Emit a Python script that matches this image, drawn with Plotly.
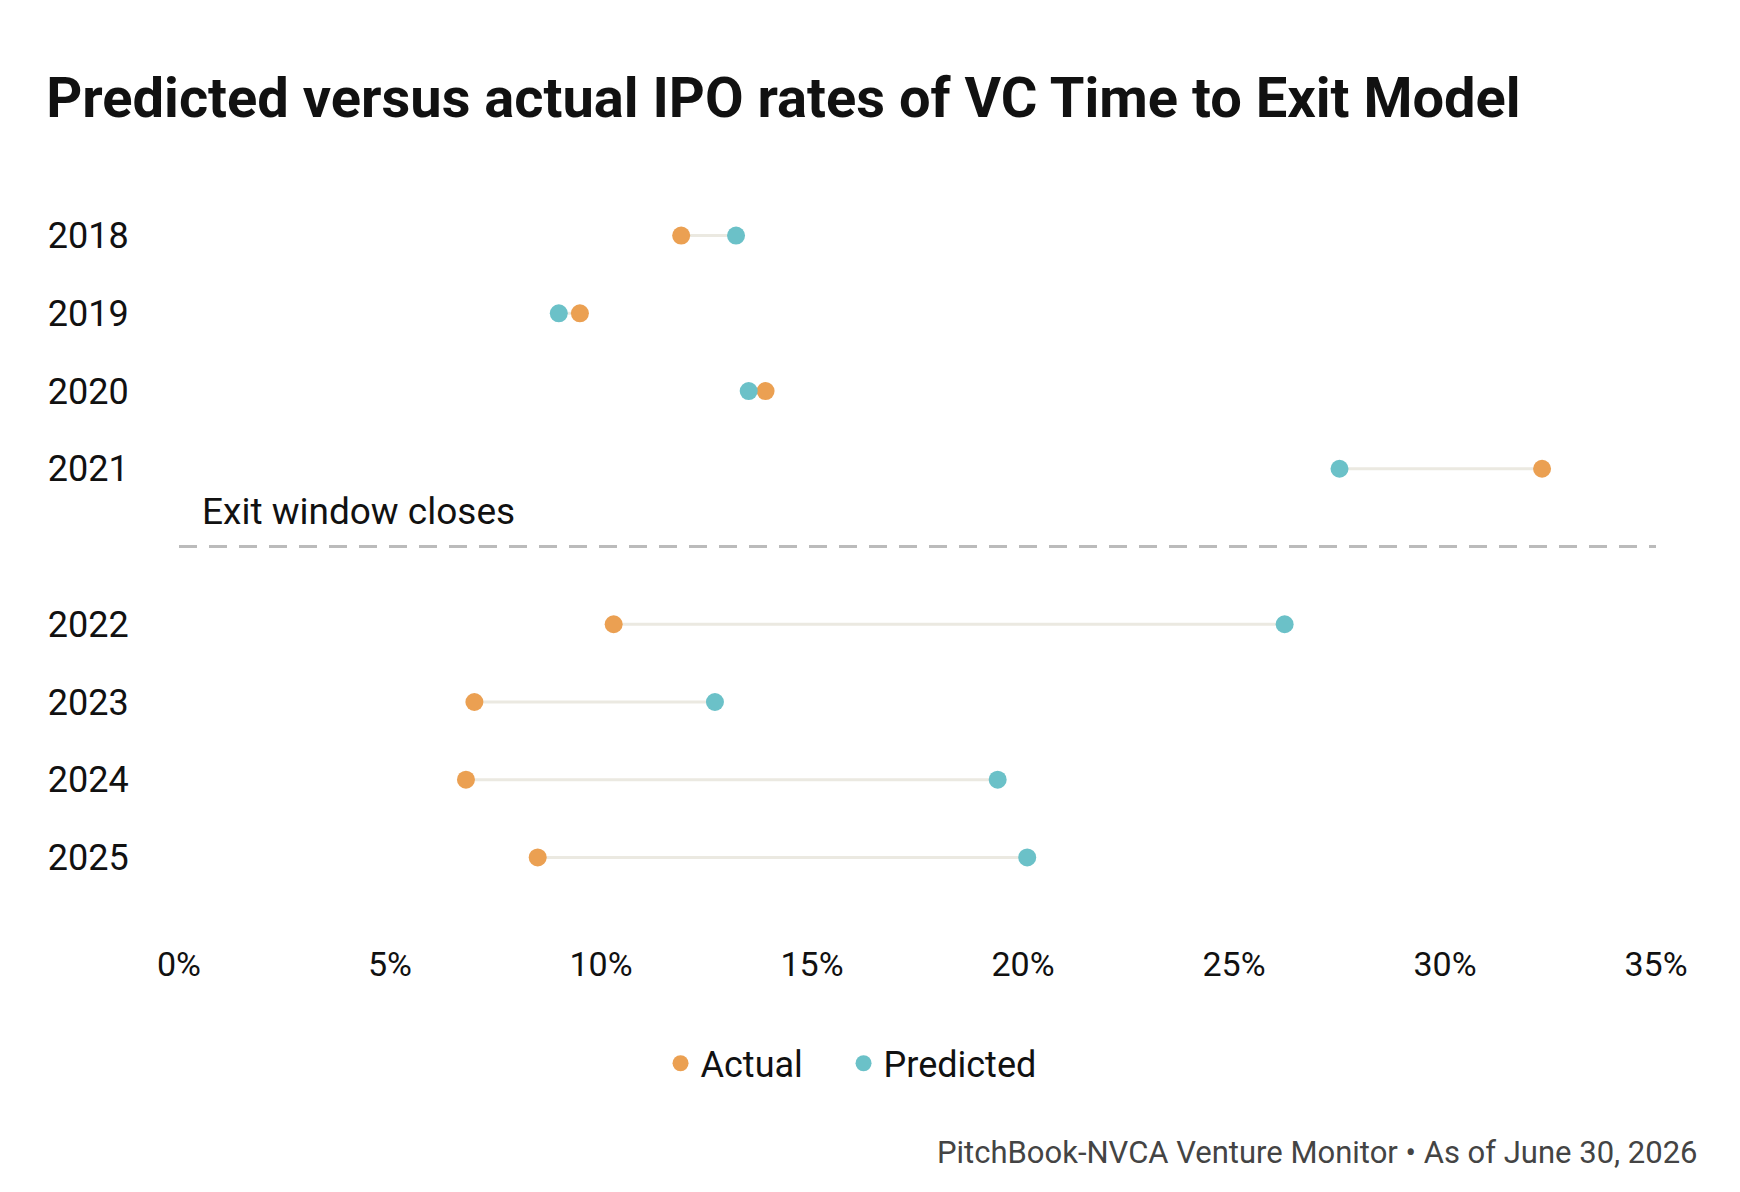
import plotly.graph_objects as go

years = ["2018", "2019", "2020", "2021", "2022", "2023", "2024", "2025"]
rows = [0, 1, 2, 3, 5, 6, 7, 8]
actual = [11.9, 9.5, 13.9, 32.3, 10.3, 7.0, 6.8, 8.5]
predicted = [13.2, 9.0, 13.5, 27.5, 26.2, 12.7, 19.4, 20.1]
xticks = [0, 5, 10, 15, 20, 25, 30, 35]

orange = "#EBA052"
teal = "#6BC1C8"
font = "Roboto"

fig = go.Figure()
for y, a, p in zip(rows, actual, predicted):
    fig.add_trace(go.Scatter(x=[a, p], y=[y, y], mode="lines",
                             line=dict(color="#EBE9E1", width=3),
                             showlegend=False, hoverinfo="skip"))
fig.add_trace(go.Scatter(x=actual, y=rows, mode="markers", name="Actual    ",
                         marker=dict(color=orange, size=18)))
fig.add_trace(go.Scatter(x=predicted, y=rows, mode="markers", name="Predicted",
                         marker=dict(color=teal, size=18)))

fig.add_shape(type="line", x0=0, x1=35.1, y0=4, y1=4, xref="x", yref="y",
              line=dict(color="#BBBBBB", width=3, dash="18px,12px"))
fig.add_annotation(x=0.5, y=3.55, xref="x", yref="y", text="Exit window closes",
                   showarrow=False, xanchor="left", yanchor="middle",
                   font=dict(family=font, size=37, color="#111"))

fig.update_layout(
    width=1740, height=1192,
    paper_bgcolor="white", plot_bgcolor="white",
    margin=dict(l=171, r=92, t=170, b=278),
    title=dict(text="<b>Predicted versus actual IPO rates of VC Time to Exit Model</b>",
               x=0.022, xanchor="left", y=0.925, yanchor="middle",
               font=dict(family=font, size=56, color="#111")),
    font=dict(family=font, color="#111"),
    xaxis=dict(range=[0, 35], tickvals=xticks, ticktext=[f"{t}%" for t in xticks],
               showgrid=False, zeroline=False, showline=False,
               tickfont=dict(size=34), ticks="outside", ticklen=12, tickcolor="white"),
    yaxis=dict(range=[8.83, -0.74], tickvals=rows, ticktext=years,
               showgrid=False, zeroline=False, showline=False,
               tickfont=dict(size=36), ticks="outside", ticklen=42, tickcolor="white"),
    legend=dict(orientation="h", x=0.455, xanchor="center", y=-0.19, yanchor="middle",
                font=dict(size=36), itemwidth=30),
    showlegend=True,
)
fig.update_xaxes(automargin=False)
fig.update_yaxes(automargin=False)
fig.add_annotation(x=1.03, y=-0.31, xref="paper", yref="paper",
                   text="PitchBook-NVCA Venture Monitor • As of June 30, 2026",
                   showarrow=False, xanchor="right", yanchor="middle",
                   font=dict(family=font, size=31, color="#444"))

fig.write_html("out.html")
